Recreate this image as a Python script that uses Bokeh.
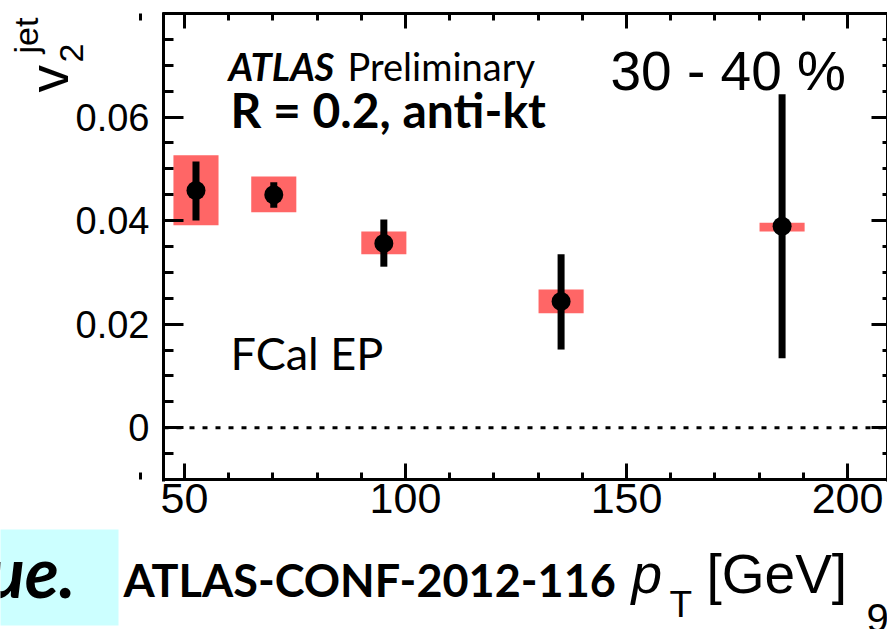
import math
from bokeh.plotting import figure
from bokeh.models import Range1d, LinearAxis, FixedTicker, Label, BoxAnnotation
from bokeh.embed import file_html
from bokeh.resources import INLINE

# ---- data ----
pt = [52.6, 70.2, 95.1, 135.2, 185.2]              # jet pT bin centres [GeV]
v2 = [0.0458, 0.0450, 0.0356, 0.0244, 0.0389]      # v2^jet
stat_lo = [0.0400, 0.0425, 0.0311, 0.0151, 0.0134]
stat_hi = [0.0514, 0.0474, 0.0402, 0.0335, 0.0644]
sys_lo = [0.0391, 0.0416, 0.0335, 0.0221, 0.0379]
sys_hi = [0.0526, 0.0485, 0.0379, 0.0267, 0.0396]

x_ticks = [50, 100, 150, 200]
x_tick_labels = ["50", "100", "150", "200"]
y_ticks = [0.0, 0.02, 0.04, 0.06]
y_tick_labels = ["0", "0.02", "0.04", "0.06"]
x_minor = [40 + 10 * i for i in range(18)]
y_minor = [round(-0.01 + 0.005 * i, 4) for i in range(19)]

# ---- geometry (pixels of the page) ----
W, H = 887, 629
F_LEFT, F_RIGHT, F_TOP, F_BOTTOM = 163, 887, 13, 479     # plot box in page pixels
X_LO, X_HI = 45.25, 209.05                               # data at box edges
Y_LO, Y_HI = -0.01, 0.08
BOX_HALF = 5.1

xs = (F_RIGHT - F_LEFT) / (X_HI - X_LO)
ys = (F_BOTTOM - F_TOP) / (Y_HI - Y_LO)
x_range = Range1d(X_LO - F_LEFT / xs, X_HI + (W - F_RIGHT) / xs)
y_range = Range1d(Y_LO - (H - F_BOTTOM) / ys, Y_HI + F_TOP / ys)

p = figure(width=W, height=H, output_backend="svg", toolbar_location=None,
           x_range=x_range, y_range=y_range,
           x_axis_location=None, y_axis_location=None,
           min_border=0, min_border_left=0, min_border_right=0,
           min_border_top=0, min_border_bottom=0)
p.outline_line_color = None
p.grid.visible = False
p.background_fill_color = "white"
p.border_fill_color = "white"

ex = 1.5 / xs
ey = 1.5 / ys

def make_axis(ticks, minor, loc, bounds, maj_in, min_in, overrides=None):
    ax = LinearAxis(ticker=FixedTicker(ticks=ticks, minor_ticks=minor),
                    fixed_location=loc, bounds=bounds)
    ax.axis_line_width = 3
    ax.axis_line_color = "black"
    ax.major_tick_line_width = 3
    ax.minor_tick_line_width = 3
    ax.major_tick_line_color = "black"
    ax.minor_tick_line_color = "black"
    ax.major_tick_in = maj_in
    ax.major_tick_out = 0
    ax.minor_tick_in = min_in
    ax.minor_tick_out = 0
    if overrides is None:
        ax.major_label_text_font_size = "0px"
        ax.major_label_text_color = None
        ax.major_label_standoff = 0
    else:
        ax.major_label_overrides = overrides
        ax.major_label_text_font = "Liberation Sans"
        ax.major_label_text_color = "black"
    return ax

bottom = make_axis(x_ticks, x_minor, Y_LO, (X_LO - ex, X_HI + ex), 16, 7,
                   {t: s for t, s in zip(x_ticks, x_tick_labels)})
bottom.major_label_text_font_size = "43px"
bottom.major_label_standoff = 4
p.add_layout(bottom, "below")

left = make_axis(y_ticks, y_minor, X_LO, (Y_LO - ey, Y_HI + ey), 20, 10,
                 {t: s for t, s in zip(y_ticks, y_tick_labels)})
left.major_label_text_font_size = "38px"
left.major_label_standoff = 14
p.add_layout(left, "left")

top = make_axis(x_ticks, x_minor, Y_HI, (X_LO - ex, X_HI + ex), 15, 7)
p.add_layout(top, "above")

right = make_axis(y_ticks, y_minor, X_HI, (Y_LO - ey, Y_HI + ey), 16, 5)
p.add_layout(right, "right")

# zero reference line
p.line(x=[X_LO, X_HI], y=[0, 0], line_color="black", line_width=3, line_dash="5 8")

# systematic boxes
p.quad(left=[x - BOX_HALF for x in pt], right=[x + BOX_HALF for x in pt],
       bottom=sys_lo, top=sys_hi, fill_color="#FF6666", line_color=None)
# statistical error bars
p.segment(x0=pt, y0=stat_lo, x1=pt, y1=stat_hi, line_color="black", line_width=7)
# points
p.scatter(x=pt, y=v2, size=19, fill_color="black", line_color=None)

# ---- texts: anchored at the middle of their line box ----
K = {"Liberation Sans": 0.3465, "Lato": 0.387}

def lab(text, cx, base, font, size, style="normal", align="left"):
    cy = base - K[font] * size
    p.add_layout(Label(x=cx, y=H - cy, x_units="screen", y_units="screen",
                       text=text, text_font=font, text_font_size=f"{size}px",
                       text_font_style=style, text_color="black",
                       text_align=align, text_baseline="middle"))

def vlab(text, base_x, start_y, font, size):
    cx = base_x - K[font] * size
    p.add_layout(Label(x=cx, y=H - start_y, x_units="screen", y_units="screen",
                       text=text, text_font=font, text_font_size=f"{size}px",
                       text_color="black", text_align="left", text_baseline="middle",
                       angle=math.pi / 2))

# cyan box at bottom left
p.add_layout(BoxAnnotation(left=-10, right=118, bottom=H - 625, top=H - 529,
                           left_units="screen", right_units="screen",
                           bottom_units="screen", top_units="screen",
                           fill_color="#CCFFFF", fill_alpha=1.0, line_color=None,
                           level="underlay"))

lab("ATLAS", 228, 80, "Lato", 38, "bold italic")
lab("Preliminary", 347, 80, "Lato", 38)
lab("R = 0.2, anti-kt", 230, 128, "Lato", 48, "bold")
lab("30 - 40 %", 610, 90, "Liberation Sans", 55)
lab("FCal EP", 230, 370, "Lato", 45)

# y-axis title v_2^jet (rotated)
vlab("v", 68, 92, "Liberation Sans", 55)
vlab("2", 83, 62, "Liberation Sans", 34)
vlab("jet", 37, 53, "Liberation Sans", 34)

# bottom line of text
lab("ue.", 75, 598, "Lato", 70, "bold italic", align="right")
lab("ATLAS-CONF-2012-116", 123, 597, "Lato", 45, "bold")
lab("p", 631, 593, "Liberation Sans", 55, "italic")
lab("T", 669, 617, "Liberation Sans", 37)
lab("[GeV]", 706, 593, "Liberation Sans", 55)
lab("9", 866, 631, "Liberation Sans", 40)

open("out.html", "w").write(file_html(p, INLINE))
